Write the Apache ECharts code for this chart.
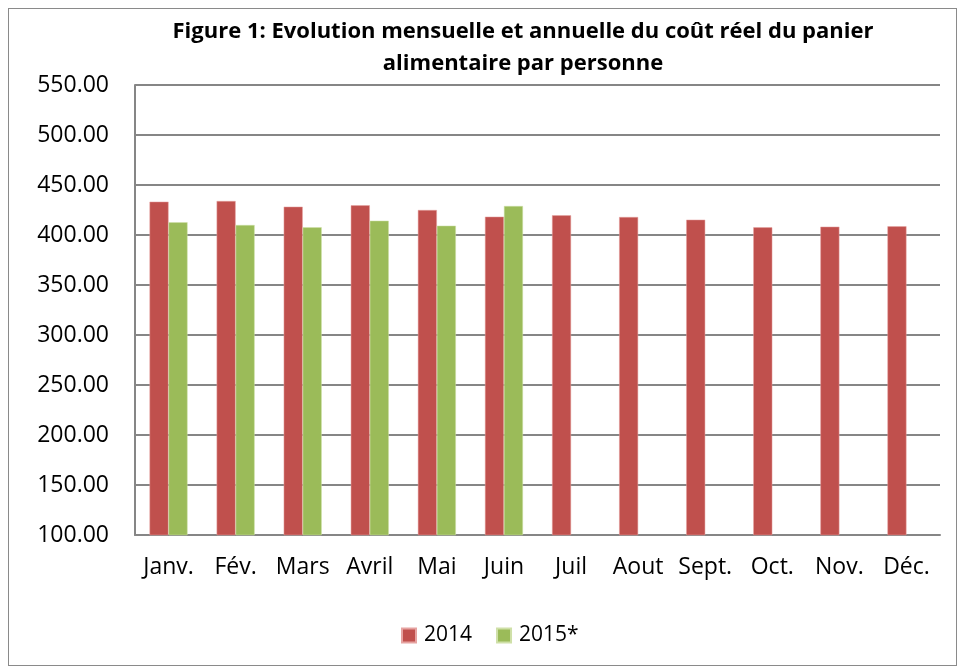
<!DOCTYPE html>
<html>
<head>
<meta charset="utf-8">
<script src="https://cdn.jsdelivr.net/npm/echarts@6/dist/echarts.min.js"></script>
<style>
  html, body { margin: 0; padding: 0; background: #fff; }
  #frame { position: absolute; left: 8px; top: 8px; width: 949px; height: 658px; border: 1px solid #8a8a8a; box-sizing: border-box; }
  #chart { position: absolute; left: 0; top: 0; width: 960px; height: 671px; }
</style>
</head>
<body>
<div id="frame"></div>
<div id="chart"></div>
<script>
// mois et valeurs
const months = ['Janv.', 'Fév.', 'Mars', 'Avril', 'Mai', 'Juin', 'Juil', 'Aout', 'Sept.', 'Oct.', 'Nov.', 'Déc.']
const cost2014 = [433.3, 434.0, 428.3, 429.7, 425.0, 418.3, 419.7, 418.0, 415.3, 407.7, 408.3, 408.7]
const cost2015 = [412.7, 410.0, 407.7, 414.3, 409.3, 429.0, null, null, null, null, null, null]
const seriesNames = ['2014', '2015*']

const font = '"Open Sans", sans-serif'
const chart = echarts.init(document.getElementById('chart'))
chart.setOption({
    animation: false,
    title: {
        text: 'Figure 1: Evolution mensuelle et annuelle du coût réel du panier\nalimentaire par personne',
        left: 518,
        top: 11,
        textAlign: 'center',
        textStyle: { fontFamily: font, fontSize: 22, fontWeight: 'bold', color: '#000', lineHeight: 32 }
    },
    legend: {
        data: seriesNames,
        top: 620,
        left: 396,
        itemWidth: 14,
        itemHeight: 14,
        itemGap: 24,
        icon: 'rect',
        textStyle: { fontFamily: font, fontSize: 21, color: '#000', padding: [0, 0, 0, 3] }
    },
    grid: { left: 135, right: 20, top: 85, bottom: 136, containLabel: false },
    xAxis: {
        type: 'category',
        data: months,
        axisLine: { lineStyle: { color: '#868686', width: 2 } },
        axisTick: { show: false },
        axisLabel: { fontFamily: font, fontSize: 23, color: '#000', margin: 21, interval: 0 }
    },
    yAxis: {
        type: 'value',
        min: 100,
        max: 550,
        interval: 50,
        axisLine: { show: true, lineStyle: { color: '#868686', width: 2 } },
        axisTick: { show: false },
        splitLine: { lineStyle: { color: '#868686', width: 2 } },
        axisLabel: { fontFamily: font, fontSize: 23, color: '#000', margin: 26, formatter: v => v.toFixed(2) }
    },
    series: [
        {
            name: seriesNames[0], type: 'bar', data: cost2014, barWidth: 19, barGap: '0%',
            itemStyle: { color: '#c0504d', borderColor: '#e6a3a1', borderWidth: 0.5 }
        },
        {
            name: seriesNames[1], type: 'bar', data: cost2015, barWidth: 19,
            itemStyle: { color: '#9bbb59', borderColor: '#cfe0a8', borderWidth: 0.5 }
        }
    ]
})
</script>
</body>
</html>
